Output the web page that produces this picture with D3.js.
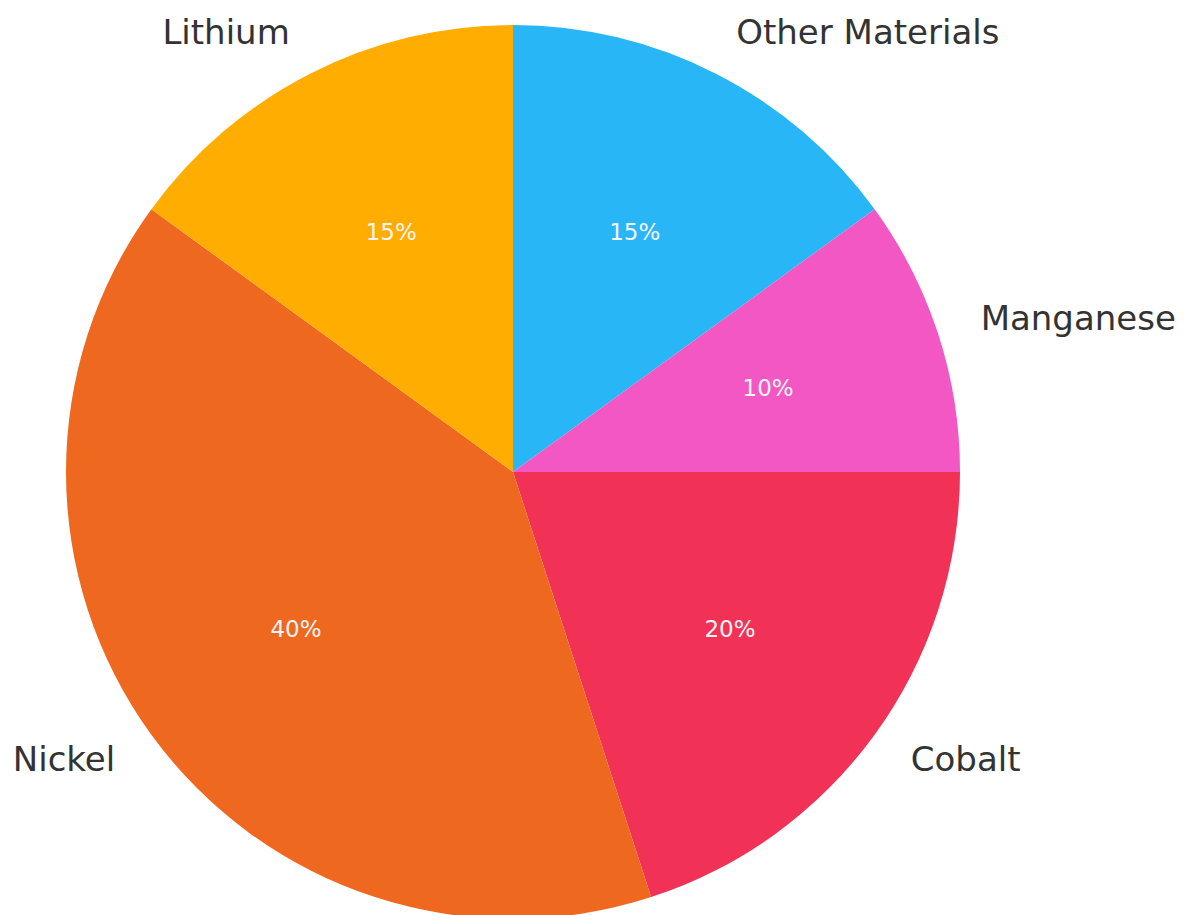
<!DOCTYPE html>
<html>
<head>
<meta charset="utf-8">
<script src="https://cdn.jsdelivr.net/npm/d3@7"></script>
<style>
  html, body { margin: 0; padding: 0; background: #fff; }
  svg { display: block; }
  text { font-family: "DejaVu Sans", sans-serif; }
</style>
</head>
<body>
<div id="grafico"></div>
<script>
// dados (ordem horaria a partir do topo)
const categorias = ["Other Materials", "Manganese", "Cobalt", "Nickel", "Lithium"];
const valores    = [15, 10, 20, 40, 15];
const cores      = ["#29b6f6", "#f257c3", "#f23157", "#ef6820", "#ffad00"];

const w = 1194, h = 915;
const cx = 513, cy = 472, raio = 447;

const $svg = d3.select("#grafico").append("svg")
  .attr("width", w)
  .attr("height", h);

const dados = categorias.map((c, i) => ({ categoria: c, valor: valores[i] }));

const escala_cor = d3.scaleOrdinal()
  .domain(categorias)
  .range(cores);

const pie = d3.pie()
  .sort(null)
  .value(d => d.valor);

const arcos = pie(dados);
const total = d3.sum(valores);

const arc = d3.arc().innerRadius(0).outerRadius(raio);

const $g = $svg.append("g").attr("transform", `translate(${cx},${cy})`);

$g.selectAll("path")
  .data(arcos)
  .enter()
  .append("path")
  .attr("d", arc)
  .attr("fill", d => escala_cor(d.data.categoria));

// posicao polar (angulo d3: 0 no topo, horario)
const polar = (a, r) => [r * Math.sin(a), -r * Math.cos(a)];

// rotulos externos a 1.1 * raio
$g.selectAll("text.label")
  .data(arcos)
  .enter()
  .append("text")
  .classed("label", true)
  .each(function(d) {
    const meio = (d.startAngle + d.endAngle) / 2;
    const [x, y] = polar(meio, raio * 1.1);
    d3.select(this)
      .attr("x", x)
      .attr("y", y - 2)
      .attr("text-anchor", x < 0 ? "end" : "start");
  })
  .attr("dominant-baseline", "central")
  .attr("font-size", 34)
  .attr("fill", "#333")
  .text(d => d.data.categoria);

// percentuais a 0.6 * raio
$g.selectAll("text.pct")
  .data(arcos)
  .enter()
  .append("text")
  .classed("pct", true)
  .each(function(d) {
    const meio = (d.startAngle + d.endAngle) / 2;
    const [x, y] = polar(meio, raio * 0.6);
    d3.select(this).attr("x", x).attr("y", y - 1);
  })
  .attr("text-anchor", "middle")
  .attr("dominant-baseline", "central")
  .attr("font-size", 23)
  .attr("fill", "#f5f5f5")
  .text(d => d3.format(".0f")(d.data.valor / total * 100) + "%");
</script>
</body>
</html>
